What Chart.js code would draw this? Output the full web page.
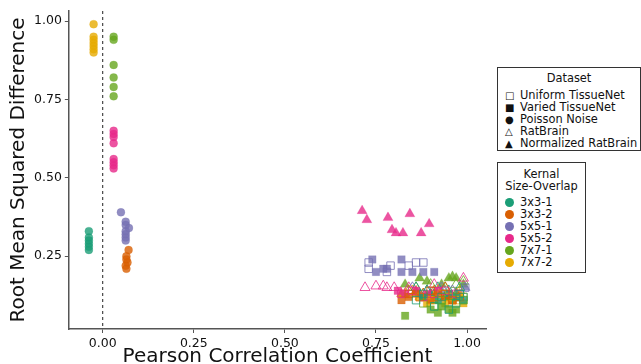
<!DOCTYPE html>
<html lang="en">

<head>
    <meta charset="UTF-8">
    <title>RMSD vs Pearson</title>
    <script src="https://cdn.jsdelivr.net/npm/chart.js"></script>
    <style>
        body { margin: 0; background: #fff; font-family: 'DejaVu Sans', sans-serif; }
        #wrap { position: relative; width: 641px; height: 364px; }
        .legBox { position: absolute; border: 1px solid #333; background: #fff; font-size: 11.4px; color: #111; line-height: 12px; }
        .legTitle { text-align: center; margin: 4px 0 5px 0; }
        .legItem { white-space: nowrap; padding-left: 7px; height: 12px; }
        .sym { display: inline-block; width: 15px; font-size: 10px; }
        .dot { display: inline-block; width: 9px; height: 9px; border-radius: 50%; margin-right: 6px; vertical-align: -1px; }
    </style>
</head>

<body>
    <div id="wrap">
        <canvas id="grafico" width="641" height="364"></canvas>

        <div class="legBox" style="left:497px; top:67px; width:142px; height:82px;">
            <div class="legTitle">Dataset</div>
            <div id="listaDataset"></div>
        </div>

        <div class="legBox" style="left:497px; top:162px; width:87px; height:109px;">
            <div class="legTitle" style="margin:5px 0 4px 0">Kernal<br>Size-Overlap</div>
            <div id="listaKernel"></div>
        </div>
    </div>

<script>
    const kernels = ['3x3-1', '3x3-2', '5x5-1', '5x5-2', '7x7-1', '7x7-2'];
    const coresKernel = ['#1B9E77', '#D95F02', '#7570B3', '#E7298A', '#66A61E', '#E6AB02'];
    const nomesDataset = ['Uniform TissueNet', 'Varied TissueNet', 'Poisson Noise', 'RatBrain', 'Normalized RatBrain'];
    const simbolosDataset = ['\u25A1', '\u25A0', '\u25CF', '\u25B3', '\u25B2'];
    const ticksX = [0, 0.25, 0.5, 0.75, 1.0];
    const ticksY = [0.25, 0.5, 0.75, 1.0];

    // one inner array per kernel, same order as kernels[]
    const uniformX = [
        [0.86, 0.88, 0.91, 0.93, 0.95, 0.97, 0.98, 0.99],
        [0.84, 0.87, 0.90, 0.92, 0.94, 0.96, 0.98],
        [0.73, 0.73, 0.78, 0.79, 0.84, 0.86, 0.88, 0.995],
        [0.82, 0.85, 0.88, 0.91, 0.94, 0.97],
        [0.88, 0.91, 0.93, 0.95, 0.97, 0.99],
        [0.87, 0.90, 0.93, 0.95, 0.97, 0.99]
    ];
    const uniformY = [
        [0.11, 0.13, 0.09, 0.12, 0.08, 0.10, 0.13, 0.12],
        [0.13, 0.12, 0.14, 0.12, 0.13, 0.11, 0.12],
        [0.23, 0.21, 0.20, 0.22, 0.22, 0.23, 0.23, 0.15],
        [0.13, 0.14, 0.12, 0.13, 0.14, 0.13],
        [0.10, 0.09, 0.11, 0.10, 0.12, 0.11],
        [0.12, 0.11, 0.13, 0.12, 0.11, 0.12]
    ];

    const variedX = [
        [0.88, 0.92, 0.95, 0.97, 0.99],
        [0.82, 0.84, 0.86, 0.88, 0.90, 0.92, 0.94, 0.96],
        [0.74, 0.75, 0.77, 0.78, 0.82, 0.82, 0.85, 0.88, 0.91],
        [0.81, 0.83, 0.86, 0.89, 0.92, 0.95],
        [0.83, 0.90, 0.92, 0.93, 0.95, 0.96, 0.97],
        [0.89, 0.91, 0.94, 0.96, 0.98, 0.99]
    ];
    const variedY = [
        [0.12, 0.11, 0.13, 0.12, 0.11],
        [0.11, 0.12, 0.13, 0.12, 0.11, 0.13, 0.12, 0.11],
        [0.24, 0.20, 0.21, 0.21, 0.24, 0.20, 0.20, 0.20, 0.20],
        [0.14, 0.13, 0.14, 0.13, 0.14, 0.13],
        [0.06, 0.08, 0.07, 0.09, 0.08, 0.07, 0.08],
        [0.10, 0.11, 0.10, 0.11, 0.12, 0.10]
    ];

    const poissonX = [
        [-0.038, -0.038, -0.038, -0.038, -0.038, -0.038],
        [0.071, 0.065, 0.065, 0.068, 0.063, 0.065],
        [0.05, 0.063, 0.063, 0.072, 0.063, 0.063, 0.063, 0.063],
        [0.03, 0.03, 0.03, 0.03, 0.03, 0.03, 0.03, 0.03],
        [0.03, 0.03, 0.03, 0.03, 0.03, 0.03],
        [-0.025, -0.025, -0.025, -0.025, -0.025, -0.025, -0.025]
    ];
    const poissonY = [
        [0.33, 0.31, 0.30, 0.29, 0.28, 0.27],
        [0.27, 0.25, 0.24, 0.23, 0.22, 0.21],
        [0.39, 0.36, 0.35, 0.34, 0.33, 0.32, 0.31, 0.30],
        [0.65, 0.64, 0.63, 0.61, 0.56, 0.55, 0.54, 0.53],
        [0.95, 0.94, 0.86, 0.82, 0.79, 0.76],
        [0.99, 0.95, 0.94, 0.93, 0.92, 0.91, 0.90]
    ];

    const ratX = [
        [0.86, 0.89, 0.92, 0.95, 0.98],
        [0.84, 0.88, 0.91, 0.94, 0.97],
        [0.85, 0.89, 0.93, 0.96],
        [0.72, 0.75, 0.77, 0.78, 0.80, 0.84, 0.91, 0.99],
        [0.86, 0.90, 0.94, 0.97, 0.99],
        [0.83, 0.85, 0.88, 0.92, 0.95, 0.98]
    ];
    const ratY = [
        [0.15, 0.14, 0.15, 0.14, 0.15],
        [0.14, 0.13, 0.14, 0.15, 0.13],
        [0.15, 0.14, 0.15, 0.14],
        [0.15, 0.155, 0.155, 0.15, 0.15, 0.15, 0.16, 0.18],
        [0.15, 0.16, 0.15, 0.16, 0.17],
        [0.13, 0.14, 0.13, 0.14, 0.13, 0.14]
    ];

    const normX = [
        [0.90, 0.94, 0.97],
        [0.82, 0.86, 0.90, 0.94],
        [0.87, 0.93, 0.995],
        [0.712, 0.725, 0.783, 0.843, 0.896, 0.794, 0.805, 0.824, 0.874],
        [0.83, 0.87, 0.89, 0.93, 0.95, 0.96, 0.97, 0.99],
        [0.87, 0.91, 0.95, 0.98]
    ];
    const normY = [
        [0.13, 0.12, 0.13],
        [0.13, 0.14, 0.13, 0.12],
        [0.13, 0.14, 0.15],
        [0.395, 0.366, 0.373, 0.385, 0.353, 0.334, 0.324, 0.324, 0.324],
        [0.16, 0.18, 0.17, 0.16, 0.18, 0.185, 0.18, 0.16],
        [0.12, 0.13, 0.12, 0.13]
    ];

    function rgba(hex, a) {
        const n = parseInt(hex.slice(1), 16);
        return `rgba(${n >> 16},${(n >> 8) & 255},${n & 255},${a})`;
    }

    function montarDatasets() {
        const grupos = [
            { xs: uniformX, ys: uniformY, estilo: 'rect', cheio: false, raio: 5.3 },
            { xs: variedX, ys: variedY, estilo: 'rect', cheio: true, raio: 5.3 },
            { xs: ratX, ys: ratY, estilo: 'triangle', cheio: false, raio: 5.8 },
            { xs: normX, ys: normY, estilo: 'triangle', cheio: true, raio: 5.8 },
            { xs: poissonX, ys: poissonY, estilo: 'circle', cheio: true, raio: 4 }
        ];
        const lista = [];
        grupos.forEach(g => {
            kernels.forEach((k, i) => {
                const cor = coresKernel[i];
                lista.push({
                    label: k,
                    data: g.xs[i].map((x, j) => ({ x: x, y: g.ys[i][j] })),
                    pointStyle: g.estilo,
                    pointRadius: g.raio,
                    backgroundColor: g.cheio ? rgba(cor, 0.8) : 'rgba(0,0,0,0)',
                    borderColor: g.cheio ? rgba(cor, 0.2) : rgba(cor, 0.8),
                    borderWidth: 1
                });
            });
        });
        return lista;
    }

    const linhaZero = {
        id: 'linhaZero',
        beforeDatasetsDraw(chart) {
            const ctx = chart.ctx;
            const x = chart.scales.x.getPixelForValue(0);
            ctx.save();
            ctx.strokeStyle = '#222';
            ctx.lineWidth = 1;
            ctx.setLineDash([3, 3]);
            ctx.beginPath();
            ctx.moveTo(x, chart.chartArea.top);
            ctx.lineTo(x, chart.chartArea.bottom);
            ctx.stroke();
            ctx.restore();
        }
    };

    function eixo(ticksFixos, titulo, min, max, padTitulo) {
        return {
            type: 'linear',
            min: min,
            max: max,
            afterBuildTicks: s => { s.ticks = ticksFixos.map(v => ({ value: v })); },
            ticks: {
                color: '#111',
                font: { family: 'DejaVu Sans', size: 12.5 },
                padding: 3,
                callback: v => v.toFixed(2)
            },
            grid: { drawOnChartArea: false, drawTicks: true, tickLength: 4, color: '#555' },
            border: { display: true, color: '#555', width: 1.5 },
            title: {
                display: true,
                text: titulo,
                color: '#111',
                font: { family: 'DejaVu Sans', size: 20 },
                padding: padTitulo
            }
        };
    }

    window.onload = function () {
        document.getElementById('listaDataset').innerHTML = nomesDataset
            .map((n, i) => `<div class="legItem"><span class="sym">${simbolosDataset[i]}</span>${n}</div>`).join('');
        document.getElementById('listaKernel').innerHTML = kernels
            .map((k, i) => `<div class="legItem"><span class="dot" style="background:${coresKernel[i]}"></span>${k}</div>`).join('');

        const ctx = document.getElementById('grafico').getContext('2d');
        new Chart(ctx, {
            type: 'scatter',
            data: { datasets: montarDatasets() },
            options: {
                responsive: false,
                animation: false,
                layout: { padding: { top: 11, right: 155, bottom: -5, left: 7 } },
                plugins: { legend: { display: false }, tooltip: { enabled: false } },
                scales: {
                    x: eixo(ticksX, 'Pearson Correlation Coefficient', -0.093, 1.052, { top: -9, bottom: 0 }),
                    y: eixo(ticksY, 'Root Mean Squared Difference', 0.018, 1.032, 0)
                }
            },
            plugins: [linhaZero]
        });
    };
</script>
</body>

</html>
